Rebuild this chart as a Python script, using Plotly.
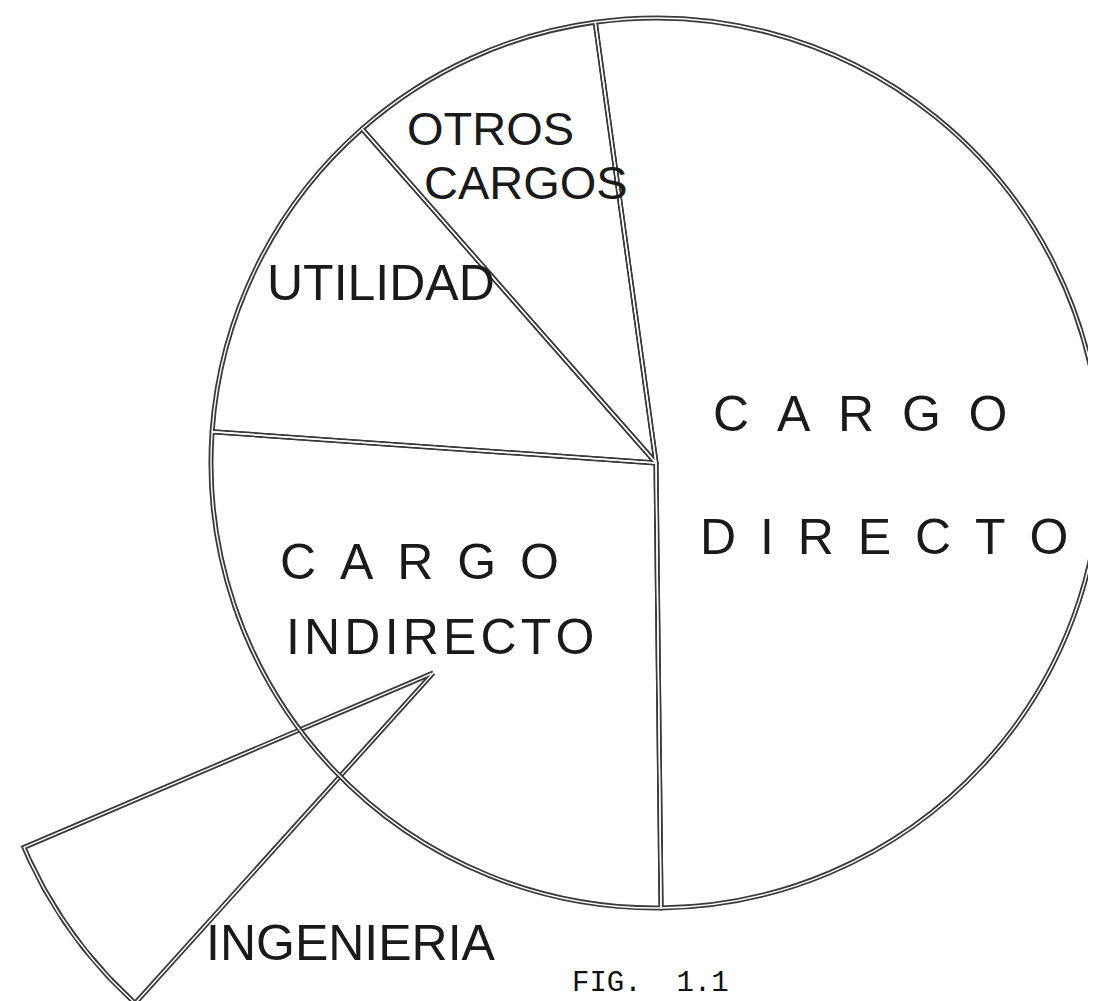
import numpy as np
import plotly.graph_objects as go

# slices of the main circle, clockwise from the top line
labels = ["CARGO DIRECTO", "CARGO INDIRECTO", "UTILIDAD", "OTROS CARGOS"]
values = [52.0, 26.3, 12.4, 9.3]          # percent of the circle

# the piece pulled out of the indirect charges
wedge_label = "INGENIERIA"
wedge_value = 6.9                          # percent of a full circle
caption = "FIG.\u00a0\u00a01.1"

W, H = 1096, 1001
CX, CY, R = 648, 455, 445                  # circle centre / radius in px
ROTATION = -7.85
PULL = 306                                 # how far the wedge is pulled out
TURN = 7.8                                 # wedge turned a bit from slice middle
INK = "#3a3a3a"

fig = go.Figure()

dom = dict(x=[(CX - R) / W, (CX + R) / W],
           y=[(H - CY - R) / H, (H - CY + R) / H])

for lw, col in [(5, INK), (1.4, "white")]:
    fig.add_trace(go.Pie(
        labels=labels, values=values, sort=False, direction="clockwise",
        rotation=ROTATION, domain=dom, textinfo="none", hoverinfo="label+percent",
        marker=dict(colors=["rgba(255,255,255,0)"] * len(values),
                    line=dict(color=col, width=lw)),
        showlegend=False,
    ))

# wedge: apex moved out along the middle of the CARGO INDIRECTO slice
start = ROTATION + 360 * values[0] / 100
mid = start + 360 * values[1] / 200
ax = CX + PULL * np.sin(np.radians(mid))
ay = CY - PULL * np.cos(np.radians(mid))
half = 360 * wedge_value / 200
th = np.radians(np.linspace(mid + TURN - half, mid + TURN + half, 60))
wx = np.concatenate([[ax], ax + R * np.sin(th), [ax]])
wy = np.concatenate([[ay], ay - R * np.cos(th), [ay]])
for lw, col in [(5, INK), (1.4, "white")]:
    fig.add_trace(go.Scatter(x=wx, y=wy, mode="lines", hoverinfo="skip",
                             line=dict(color=col, width=lw), showlegend=False))


def spaced(s, gap):
    return gap.join(s)


font = dict(family="Liberation Sans, Arial, sans-serif", size=50, color="#1a1a1a")
small = dict(font, size=47)
texts = [
    ("OTROS", 397, 120, small),
    ("CARGOS", 414, 174, small),
    ("UTILIDAD", 257, 275, font),
    (spaced("CARGO", "\u00a0\u00a0"), 703, 406, font),
    (spaced("DIRECTO", "\u00a0\u2009"), 690, 529, font),
    (spaced("CARGO", "\u00a0\u2009"), 270, 554, font),
    (spaced("INDIRECTO", "\u200a"), 276, 629, font),
    (wedge_label, 196, 935, font),
]
for t, x, y, f in texts:
    fig.add_annotation(x=x, y=y, xref="x", yref="y", text=t, showarrow=False,
                       xanchor="left", yanchor="middle", font=f)

fig.add_annotation(x=562, y=H - 7, xref="x", yref="y", text=caption, showarrow=False,
                   xanchor="left", yanchor="bottom",
                   font=dict(family="Courier New, Liberation Mono, monospace",
                             size=29, color="#111"))

fig.update_layout(
    width=W, height=H, margin=dict(l=0, r=0, t=0, b=0),
    paper_bgcolor="white", plot_bgcolor="white",
    xaxis=dict(range=[0, W], visible=False, fixedrange=True),
    yaxis=dict(range=[H, 0], visible=False, fixedrange=True),
)

fig.write_html("out.html")
